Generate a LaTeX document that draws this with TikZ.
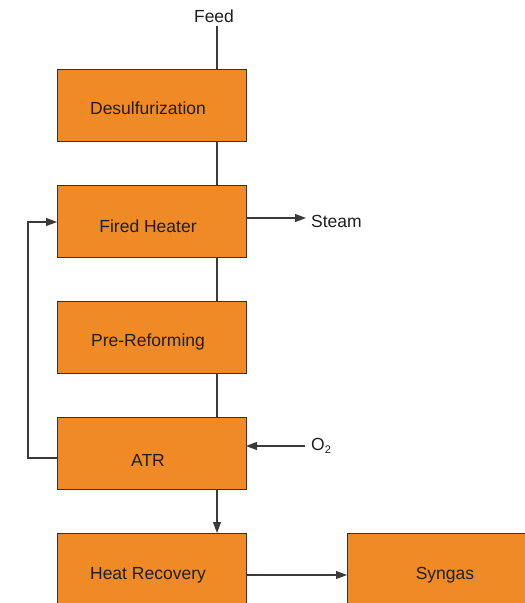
\documentclass[tikz,border=0pt]{standalone}
\usepackage{fontspec}
\setmainfont{Liberation Sans}
\usetikzlibrary{arrows.meta}
\definecolor{boxorange}{HTML}{F08A24}
\definecolor{edgegrey}{HTML}{333333}
\definecolor{linegrey}{HTML}{3A3A3A}
\tikzset{
  unit/.style={draw=edgegrey, line width=0.9pt, fill=boxorange, minimum width=189pt, minimum height=72pt, inner sep=0pt},
  lbl/.style={font=\fontsize{17.5}{20}\selectfont, text=black!88, inner sep=0pt},
  conn/.style={draw=linegrey, line width=1.1pt},
  flow/.style={conn, -{Triangle[length=11pt,width=8pt]}}
}
\begin{document}
\begin{tikzpicture}[x=1pt,y=-1pt]
\useasboundingbox (0,0) rectangle (525,603);
\clip (0,0) rectangle (525,603);
\node[unit, anchor=north west] (des) at (57,69) {};
\node[unit, anchor=north west] (fh) at (57,185) {};
\node[unit, anchor=north west] (pre) at (57,301) {};
\node[unit, anchor=north west] (atr) at (57,417) {};
\node[unit, anchor=north west] (hr) at (57,533) {};
\node[unit, anchor=north west, minimum width=220pt] (syn) at (347,533) {};
\node[lbl] (desl) at (148,108) {Desulfurization};
\node[lbl] (fhl) at (148,226) {Fired Heater};
\node[lbl] (prel) at (148,342) {Pre-Reforming};
\node[lbl] (atrl) at (148,460) {ATR};
\node[lbl] (hrl) at (148,575) {Heat Recovery};
\node[lbl] (synl) at (445,575) {Syngas};
\node[lbl] (feed) at (214,16) {Feed};
\node[lbl, anchor=west] (steam) at (311,221) {Steam};
\node[lbl, anchor=west] (o2) at (311,446) {O{\fontsize{11}{12}\selectfont\raisebox{-3pt}{2}}};
\coordinate (feedtop) at (217,26);
\coordinate (steamend) at (306,218);
\coordinate (o2start) at (305,446);
\draw[conn] (feedtop) -- (217,69);
\draw[conn] (217,141) -- (217,185);
\draw[conn] (217,257) -- (217,301);
\draw[conn] (217,373) -- (217,417);
\draw[flow] (217,489) -- (217,533);
\draw[flow] (246,218) -- (steamend);
\draw[flow] (o2start) -- (246,446);
\draw[flow] (57,458) -- (28,458) -- (28,222) -- (57,222);
\draw[flow] (246,575) -- (347,575);
\end{tikzpicture}
\end{document}
